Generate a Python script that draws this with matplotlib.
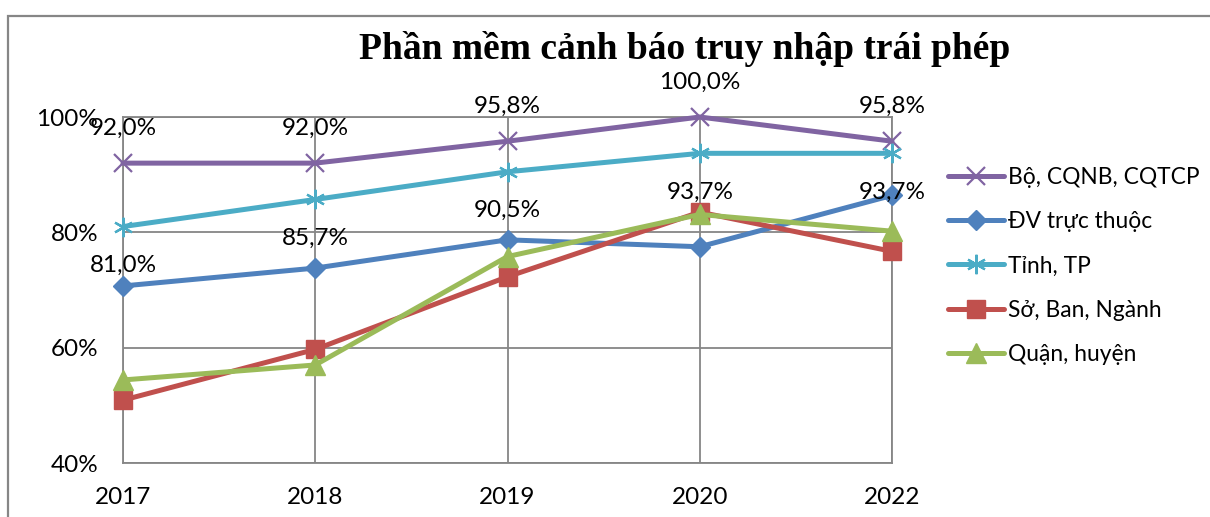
import matplotlib
matplotlib.use("Agg")
import matplotlib.pyplot as plt
from matplotlib.patches import Rectangle
from matplotlib.ticker import FuncFormatter

years = ["2017", "2018", "2019", "2020", "2022"]
bo_cqnb = [92.0, 92.0, 95.8, 100.0, 95.8]
dv_truc_thuoc = [70.7, 73.8, 78.7, 77.5, 86.4]
tinh_tp = [81.0, 85.7, 90.5, 93.7, 93.7]
so_ban_nganh = [50.9, 59.7, 72.3, 83.5, 76.7]
quan_huyen = [54.4, 57.0, 75.8, 83.1, 80.2]

series = [
    ("Bộ, CQNB, CQTCP", bo_cqnb, "#8064A2", "x", 13),
    ("ĐV trực thuộc", dv_truc_thuoc, "#4F81BD", "D", 10),
    ("Tỉnh, TP", tinh_tp, "#4BACC6", (6, 2, 0), 14),
    ("Sở, Ban, Ngành", so_ban_nganh, "#C0504D", "s", 13),
    ("Quận, huyện", quan_huyen, "#9BBB59", "^", 14),
]

plt.rcParams["font.family"] = ["Lato", "DejaVu Sans"]
FS = 17.5
GRID = "#868686"

fig = plt.figure(figsize=(12.1, 5.17), dpi=100)
W, H = 1210, 517
ax = fig.add_axes([123 / W, (H - 463) / H, (892 - 123) / W, (463 - 117) / H])

# outer chart frame (runs off the right and bottom edges)
fig.patches.append(Rectangle((8 / W, -0.1), 1.2, (H - 16) / H + 0.1, transform=fig.transFigure,
                             fill=False, edgecolor=GRID, linewidth=1.6))

x = list(range(len(years)))
for name, vals, color, marker, ms in series:
    mew = 1.6 if marker in ("x", (6, 2, 0)) else 1
    ax.plot(x, vals, color=color, lw=3.6, marker=marker, ms=ms, mew=mew,
            mec=color, mfc=color, label=name, solid_capstyle="round", clip_on=False, zorder=3)

fmt = lambda v: f"{v:.1f}%".replace(".", ",")
for i, v in enumerate(bo_cqnb):
    ax.annotate(fmt(v), (i, v), xytext=(0, 35), textcoords="offset pixels",
                ha="center", va="center", fontsize=FS, annotation_clip=False)
for i, v in enumerate(tinh_tp):
    ax.annotate(fmt(v), (i, v), xytext=(0, -39), textcoords="offset pixels",
                ha="center", va="center", fontsize=FS, annotation_clip=False)

ax.set_xlim(0, 4)
ax.set_ylim(40, 100)
ax.set_xticks(x, years)
ax.set_yticks([40, 60, 80, 100])
ax.yaxis.set_major_formatter(FuncFormatter(lambda v, _: f"{v:.0f}%"))
ax.tick_params(length=0, labelsize=FS)
ax.tick_params(axis="y", pad=18)
ax.tick_params(axis="x", pad=17)
ax.grid(True, color=GRID, lw=1.3)
ax.set_axisbelow(True)
for s in ax.spines.values():
    s.set_color(GRID)
    s.set_linewidth(1.3)

fig.text(685 / W, (H - 49) / H, "Phần mềm cảnh báo truy nhập trái phép", ha="center", va="center",
         fontsize=27, fontweight="bold", family="Liberation Serif")

ax.legend(loc="upper left", bbox_to_anchor=(948 / W, (H - 167) / H), bbox_transform=fig.transFigure,
          frameon=False, fontsize=16.4, handlelength=2.45, handletextpad=0.2, labelspacing=1.02,
          borderpad=0, borderaxespad=0)

fig.savefig("out.png", dpi=100, facecolor="white")
